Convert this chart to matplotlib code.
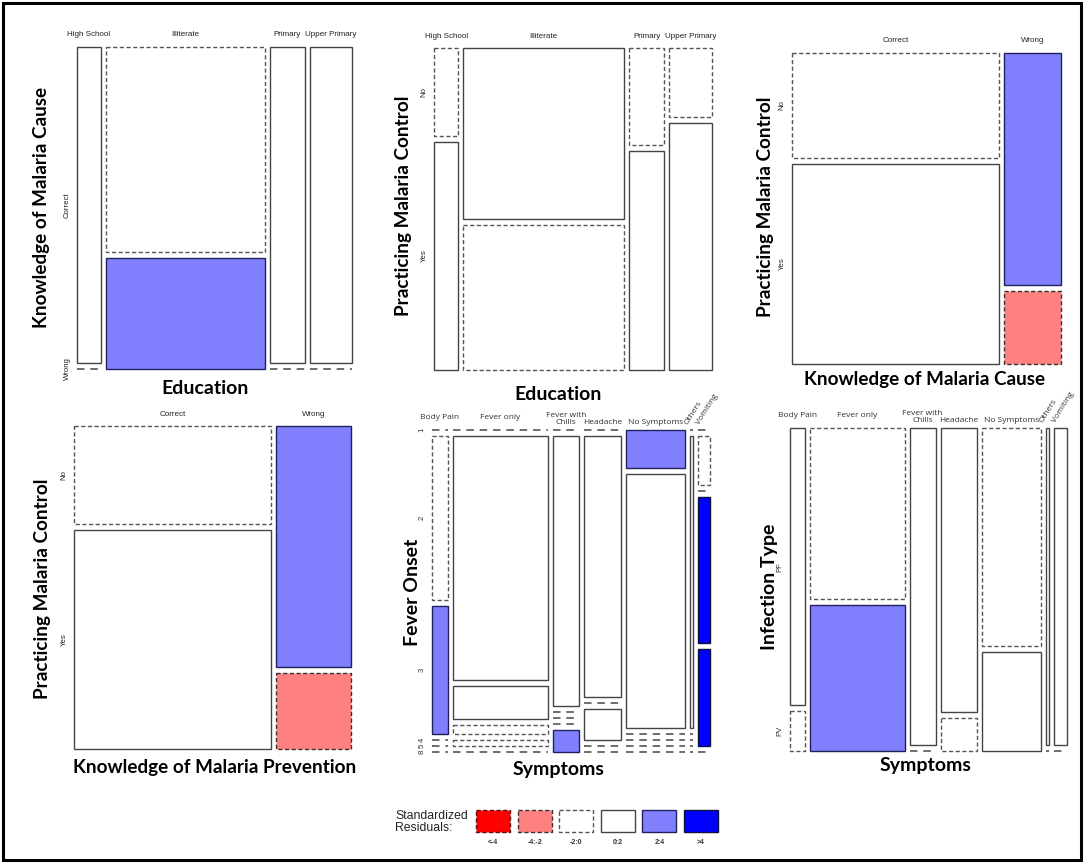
import matplotlib
matplotlib.use("Agg")
import matplotlib.pyplot as plt
from matplotlib.patches import Rectangle
import numpy as np

W_PX, H_PX = 1084, 864

# categories
education = ["High School", "Illiterate", "Primary", "Upper Primary"]
knowledge = ["Correct", "Wrong"]
control = ["No", "Yes"]
symptoms = ["Body Pain", "Fever only", "Fever with\nChills", "Headache",
            "No Symptoms", "Others", "Vomiting"]
onset = ["1", "2", "3", "4", "5", "8"]
infection = ["PF", "PV"]

# counts (one row per x category, one value per y category)
cause_by_edu = [[18, 0], [78, 42], [26, 0], [32, 0]]
control_by_edu = [[5, 13], [65, 55], [8, 18], [7, 25]]
control_by_cause = [[53, 101], [32, 10]]
control_by_prev = [[44, 98], [41, 13]]
onset_by_sym = [[0, 9, 7, 0, 0, 0],
                [0, 82, 11, 3, 2, 0],
                [0, 25, 0, 0, 0, 2],
                [0, 34, 0, 4, 0, 0],
                [8, 53, 0, 0, 0, 0],
                [0, 3, 0, 0, 0, 0],
                [0, 2, 0, 6, 4, 0]]
infection_by_sym = [[14, 2], [53, 45], [27, 0], [34, 4], [42, 19], [3, 0], [14, 0]]

# residual class of each cell: -3 <-4, -2 -4:-2, -1 -2:0, 1 0:2, 2 2:4, 3 >4
cause_by_edu_res = [[1, -1], [-1, 2], [1, -1], [1, -1]]
control_by_edu_res = [[-1, 1], [1, -1], [-1, 1], [-1, 1]]
control_by_cause_res = [[-1, 1], [2, -2]]
control_by_prev_res = [[-1, 1], [2, -2]]
onset_by_sym_res = [[-1, -1, 2, -1, -1, -1],
                    [-1, 1, 1, -1, -1, -1],
                    [-1, 1, -1, -1, -1, 2],
                    [-1, 1, -1, 1, -1, -1],
                    [2, 1, -1, -1, -1, -1],
                    [-1, 1, -1, -1, -1, -1],
                    [-1, -1, -1, 3, 3, -1]]
infection_by_sym_res = [[1, -1], [-1, 2], [1, -1], [1, -1], [-1, 1], [1, -1], [1, -1]]

legend_classes = [-3, -2, -1, 1, 2, 3]
legend_labels = ["<-4", "-4:-2", "-2:0", "0:2", "2:4", ">4"]

FILL = {-3: "#FF0000", -2: "#FF8080", -1: "white", 1: "white", 2: "#8080FF", 3: "#0000FF"}
EDGE = {-3: "#5a1010", -2: "#333333", -1: "#555555", 1: "#444444", 2: "#20205a", 3: "#101040"}
DASH = (0, (3, 1.8))
TITLE_FONT = dict(family="Lato", weight="bold", color="black")

fig = plt.figure(figsize=(W_PX / 100, H_PX / 100), dpi=100)
bg = fig.add_axes([0, 0, 1, 1])
bg.set_xlim(0, W_PX)
bg.set_ylim(H_PX, 0)
bg.axis("off")
bg.add_patch(Rectangle((3, 3), 1078, 857, fill=False, lw=2.2, ec="black"))


def cell_style(r):
    return dict(facecolor=FILL[r], edgecolor=EDGE[r], lw=1.0,
                linestyle=DASH if r < 0 else "-")


def mosaic(box, counts, res, cols, rows, gx=5, gy=6, lab_font=None,
           lab_color="#222222", rotated=(), col_lift=None, lab_va="center", lab_dy=12):
    x0, y0, x1, y1 = box
    w, h = x1 - x0, y1 - y0
    ax = fig.add_axes([x0 / W_PX, 1 - y1 / H_PX, w / W_PX, h / H_PX])
    ax.set_xlim(0, w)
    ax.set_ylim(h, 0)
    ax.axis("off")
    counts = np.asarray(counts, float)
    col_tot = counts.sum(axis=1)
    widths = (w - gx * (len(cols) - 1)) * col_tot / col_tot.sum()
    lefts = np.concatenate([[0], np.cumsum(widths + gx)[:-1]])
    avail_h = h - gy * (len(rows) - 1)
    first_centres = []
    for j in range(len(cols)):
        heights = avail_h * counts[j] / col_tot[j]
        tops = np.concatenate([[0], np.cumsum(heights + gy)[:-1]])
        for i in range(len(rows)):
            if heights[i] == 0:
                # empty cell -> dashed line
                ax.plot([lefts[j], lefts[j] + widths[j]], [tops[i], tops[i]],
                        color="#555555", lw=1.2, ls=(0, (4.5, 3.5)), clip_on=False)
            else:
                ax.add_patch(Rectangle((lefts[j], tops[i]), widths[j], heights[i],
                                       clip_on=False, **cell_style(res[j][i])))
            if j == 0:
                first_centres.append(tops[i] + heights[i] / 2)
    font = lab_font or dict(family="Liberation Sans", size=5.8)
    for j, name in enumerate(cols):
        cx = lefts[j] + widths[j] / 2
        lift = col_lift[j] if col_lift else 0
        if name in rotated:
            ax.text(cx - 3, -4, name, rotation=58, rotation_mode="anchor",
                    ha="left", va="bottom", color=lab_color, **font)
        else:
            ax.text(cx, -lab_dy - lift, name, ha="center", va=lab_va,
                    color=lab_color, linespacing=1.0, **font)
    for i, name in enumerate(rows):
        ax.text(-10, first_centres[i], name, rotation=90, ha="center", va="center",
                color=lab_color, family="Liberation Sans", size=5.6)
    return ax


def ftext(x, y, s, size, rot=0):
    bg.text(x, y, s, ha="center", va="center", rotation=rot, size=size, **TITLE_FONT)


sym_font = dict(family="Open Sans", size=6.0)

# top row
mosaic((77, 47, 352, 369), cause_by_edu, cause_by_edu_res, education, knowledge)
ftext(205, 388, "Education", 14)
ftext(42, 207, "Knowledge of Malaria Cause", 13.6, 90)

mosaic((434, 48, 712, 370), control_by_edu, control_by_edu_res, education, control)
ftext(558, 395, "Education", 14)
ftext(403, 206, "Practicing Malaria Control", 13.6, 90)

mosaic((792, 53, 1061, 364), control_by_cause, control_by_cause_res, knowledge, control)
ftext(925, 379, "Knowledge of Malaria Cause", 13.6)
ftext(765, 207, "Practicing Malaria Control", 13.6, 90)

# bottom row
mosaic((74, 426, 351, 749), control_by_prev, control_by_prev_res, knowledge, control)
ftext(215, 768, "Knowledge of Malaria Prevention", 13.6)
ftext(43, 589, "Practicing Malaria Control", 13.6, 90)

lift = [5, 5, 0, 0, 0, 0, 0]
mosaic((432, 430, 710, 752), onset_by_sym, onset_by_sym_res, symptoms, onset,
       lab_font=sym_font, lab_color="#333333", rotated=("Others", "Vomiting"),
       col_lift=lift, lab_va="bottom", lab_dy=4)
ftext(559, 770, "Symptoms", 14)
ftext(412, 592, "Fever Onset", 14, 90)

mosaic((790, 428, 1067, 751), infection_by_sym, infection_by_sym_res, symptoms, infection,
       lab_font=sym_font, lab_color="#333333", rotated=("Others", "Vomiting"),
       col_lift=lift, lab_va="bottom", lab_dy=4)
ftext(926, 766, "Symptoms", 14)
ftext(770, 587, "Infection Type", 14, 90)

# legend
lg = fig.add_axes([476 / W_PX, 1 - 850 / H_PX, 242 / W_PX, 40 / H_PX])
lg.set_xlim(0, 242)
lg.set_ylim(40, 0)
lg.axis("off")
step = 41.6
for k, (r, lab) in enumerate(zip(legend_classes, legend_labels)):
    lg.add_patch(Rectangle((k * step, 0), 34, 22, clip_on=False, **cell_style(r)))
    lg.text(k * step + 17, 32, lab, ha="center", va="center", size=5,
            family="Liberation Sans", weight="bold", color="#333333")
bg.text(395, 822, "Standardized\nResiduals:", ha="left", va="center", size=8.8,
        multialignment="left", family="Liberation Sans", color="#222222", linespacing=1.0)

fig.savefig("out.png", dpi=100)
